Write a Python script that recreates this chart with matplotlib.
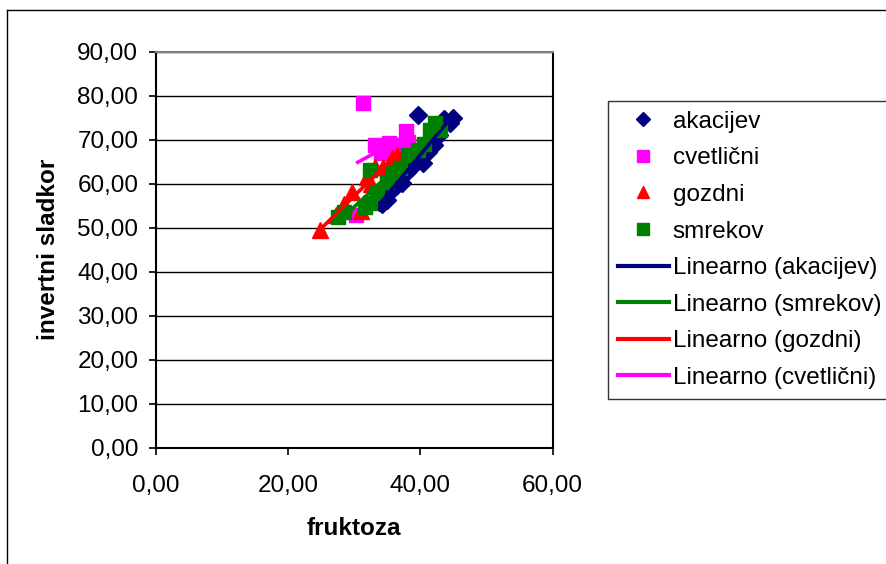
import numpy as np
import matplotlib
matplotlib.use("Agg")
import matplotlib.pyplot as plt
from matplotlib.lines import Line2D
from matplotlib.ticker import FuncFormatter, MultipleLocator

plt.rcParams['font.family'] = ['Liberation Sans', 'DejaVu Sans']

# fruktoza (x) and invertni sladkor (y) per honey type
akacijev_x = [33.8, 34.2, 34.9, 35.6, 36.4, 37.2, 38.0, 38.8, 39.5, 39.7, 40.4, 41.2, 42.0, 42.8, 43.5, 44.5, 45.0]
akacijev_y = [55.8, 55.5, 56.3, 58.4, 59.8, 60.1, 62.6, 63.8, 65.5, 75.6, 64.8, 67.3, 68.8, 71.0, 74.6, 73.8, 75.0]

cvetlicni_x = [30.3, 31.3, 33.1, 34.0, 35.2, 35.9, 36.7, 37.9, 38.2]
cvetlicni_y = [53.0, 78.3, 68.8, 67.0, 69.2, 68.0, 68.8, 72.0, 69.5]

gozdni_x = [24.8, 27.2, 28.4, 29.6, 31.1, 31.9, 32.5, 33.1, 34.4, 35.7, 36.5]
gozdni_y = [49.5, 53.0, 55.5, 58.2, 53.8, 61.6, 60.0, 63.9, 63.9, 65.8, 66.5]

smrekov_x = [27.6, 28.5, 31.6, 32.4, 32.4, 33.5, 35.0, 35.9, 37.0, 38.2, 39.7, 40.5, 41.5, 42.2, 43.0]
smrekov_y = [52.5, 53.5, 54.8, 55.6, 63.2, 58.0, 60.5, 62.4, 63.5, 66.5, 67.7, 69.0, 72.2, 73.7, 72.2]

series_names = ["akacijev", "cvetlični", "gozdni", "smrekov"]

NAVY, MAGENTA, RED, GREEN = "#000080", "#FF00FF", "#FF0000", "#008000"
FS = 17.5

fig = plt.figure(figsize=(8.86, 5.64), dpi=100)
ax = fig.add_axes([0.1757, 0.2062, 0.4481, 0.7021])

ax.set_xlim(0, 60)
ax.set_ylim(0, 90)
ax.xaxis.set_major_locator(MultipleLocator(20))
ax.yaxis.set_major_locator(MultipleLocator(10))
fmt = FuncFormatter(lambda v, p: f"{v:.2f}".replace(".", ","))
ax.xaxis.set_major_formatter(fmt)
ax.yaxis.set_major_formatter(fmt)
ax.grid(axis='y', color='black', linewidth=1.0)
ax.set_axisbelow(True)

for s in ax.spines.values():
    s.set_linewidth(1.5)
    s.set_color('black')
ax.spines['top'].set_color('#808080')

ax.tick_params(axis='both', direction='out', length=5, width=1.2, labelsize=FS, colors='black')
ax.tick_params(axis='y', pad=7.5)
ax.tick_params(axis='x', pad=15)

ax.plot(akacijev_x, akacijev_y, 'D', color=NAVY, markersize=9, linestyle='none', zorder=3)
ax.plot(cvetlicni_x, cvetlicni_y, 's', color=MAGENTA, markersize=10, linestyle='none', zorder=3)
ax.plot(gozdni_x, gozdni_y, '^', color=RED, markersize=11, linestyle='none', zorder=3)
ax.plot(smrekov_x, smrekov_y, 's', color=GREEN, markersize=10, linestyle='none', zorder=3)

def trend(xs, ys, color):
    xs = np.asarray(xs); ys = np.asarray(ys)
    k, n = np.polyfit(xs, ys, 1)
    xx = np.array([xs.min(), xs.max()])
    ax.plot(xx, k * xx + n, color=color, linewidth=2.6, solid_capstyle='butt', zorder=4)

trend(akacijev_x, akacijev_y, NAVY)
trend(smrekov_x, smrekov_y, GREEN)
trend(gozdni_x, gozdni_y, RED)
trend(cvetlicni_x, cvetlicni_y, MAGENTA)

ax.set_xlabel("fruktoza", fontsize=FS, fontweight='bold', labelpad=14)
ax.set_ylabel("invertni sladkor", fontsize=FS, fontweight='bold', labelpad=12.5)

handles = [
    Line2D([], [], marker='D', color=NAVY, linestyle='none', markersize=7),
    Line2D([], [], marker='s', color=MAGENTA, linestyle='none', markersize=8),
    Line2D([], [], marker='^', color=RED, linestyle='none', markersize=9),
    Line2D([], [], marker='s', color=GREEN, linestyle='none', markersize=8),
    Line2D([], [], color=NAVY, linewidth=3),
    Line2D([], [], color=GREEN, linewidth=3),
    Line2D([], [], color=RED, linewidth=3),
    Line2D([], [], color=MAGENTA, linewidth=3),
]
labels = series_names + ["Linearno (akacijev)", "Linearno (smrekov)",
                         "Linearno (gozdni)", "Linearno (cvetlični)"]
leg = fig.legend(handles, labels, loc='upper left', bbox_to_anchor=(608 / 886, 1 - 101 / 564),
                 fontsize=FS, frameon=True, fancybox=False, edgecolor='black',
                 handlelength=2.1, handletextpad=0.16, labelspacing=0.6, borderpad=0.4,
                 borderaxespad=0)
leg.get_frame().set_linewidth(1.0)

# outer chart frame (left and top edges)
fig.add_artist(Line2D([7 / 886, 7 / 886], [0, 1 - 10 / 564], color='black', linewidth=1.0))
fig.add_artist(Line2D([7 / 886, 1], [1 - 10 / 564, 1 - 10 / 564], color='black', linewidth=1.0))

fig.savefig("out.png", dpi=100)
